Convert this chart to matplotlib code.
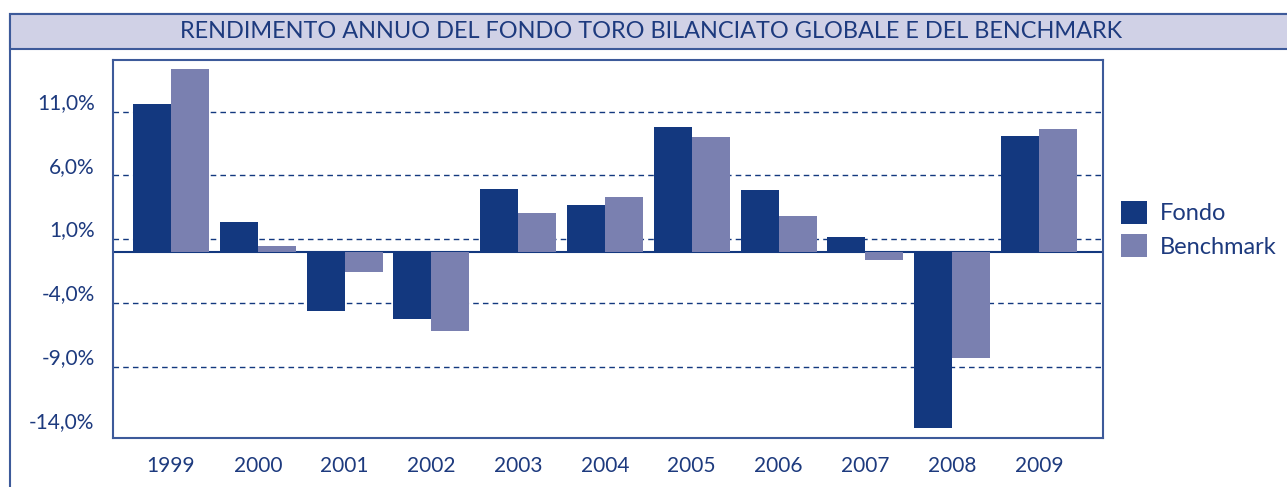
import matplotlib
matplotlib.use("Agg")
import matplotlib.pyplot as plt
from matplotlib.patches import Rectangle
from matplotlib import transforms
import numpy as np

years = ["1999", "2000", "2001", "2002", "2003", "2004",
         "2005", "2006", "2007", "2008", "2009"]
fondo = [11.6, 2.35, -4.6, -5.25, 4.95, 3.7, 9.8, 4.85, 1.2, -13.8, 9.1]
benchmark = [14.35, 0.5, -1.55, -6.2, 3.05, 4.3, 9.0, 2.8, -0.6, -8.35, 9.65]
ticks = [11, 6, 1, -4, -9, -14]
tick_labels = ["11,0%", "6,0%", "1,0%", "-4,0%", "-9,0%", "-14,0%"]
title = "RENDIMENTO ANNUO DEL FONDO TORO BILANCIATO GLOBALE E DEL BENCHMARK"

navy = "#13387f"
lilac = "#7a80b0"
text_col = "#1d3a7e"
frame_col = "#3d5a9a"

plt.rcParams["font.family"] = ["Lato", "DejaVu Sans"]

W, H = 1287, 487
fig = plt.figure(figsize=(W / 100, H / 100), dpi=100)

# outer frame and title band
fig.patches.append(Rectangle((10 / W, -0.1), 1.2, (H - 14) / H + 0.1,
                             transform=fig.transFigure, fill=False,
                             edgecolor=frame_col, linewidth=1.5))
fig.patches.append(Rectangle((10 / W, (H - 49) / H), 1.2, 35 / H,
                             transform=fig.transFigure, facecolor="#d0d1e6",
                             edgecolor=frame_col, linewidth=1.5))
fig.text(651 / W, (H - 31) / H, title, ha="center", va="center",
         fontsize=16.9, color=text_col)

ax = fig.add_axes([112.6 / W, 49.3 / H, 990 / W, 377.7 / H])
x = np.arange(len(years))
w = 0.4375
ax.bar(x - w / 2, fondo, w, color=navy, label="Fondo", zorder=3)
ax.bar(x + w / 2, benchmark, w, color=lilac, label="Benchmark", zorder=3)

for t in ticks[:-1]:
    ax.axhline(t, color=navy, linewidth=1.0, linestyle=(0, (4, 3)), zorder=1)
ax.axhline(0, color=navy, linewidth=1.5, zorder=2)

ax.set_xlim(-0.673, 10.734)
ax.set_ylim(-14.57, 15.05)
ax.set_yticks(ticks)
ax.set_yticklabels(tick_labels)
ax.set_xticks(x)
ax.set_xticklabels(years)
ax.tick_params(axis="y", length=0, pad=13, labelsize=15, labelcolor=text_col)
ax.tick_params(axis="x", length=0, pad=13, labelsize=15, labelcolor=text_col)
# y labels sit just above their gridline
shift = transforms.ScaledTranslation(0, 2 / 72, fig.dpi_scale_trans)
for lab in ax.get_yticklabels():
    lab.set_va("baseline")
    lab.set_transform(lab.get_transform() + shift)
for s in ax.spines.values():
    s.set_color(frame_col)
    s.set_linewidth(1.5)

leg = ax.legend(loc="upper left", bbox_to_anchor=(1.0185, 0.627), frameon=False,
                fontsize=17, handlelength=1.1, handleheight=1.1,
                handletextpad=0.55, labelspacing=0.42, borderaxespad=0,
                borderpad=0)
for t in leg.get_texts():
    t.set_color(text_col)

fig.savefig("out.png", dpi=100)
